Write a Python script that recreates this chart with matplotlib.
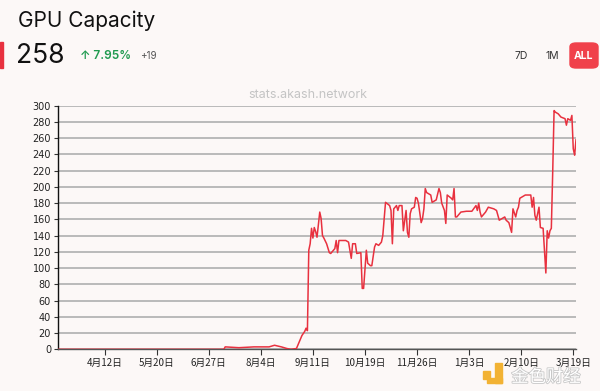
import pandas as pd
import numpy as np
import matplotlib.pyplot as plt
import matplotlib.patheffects as pe
from matplotlib.patches import FancyBboxPatch, Rectangle

# ---------------- Data ----------------
start_date = "2023-03-09"
day_offsets = [0, 121, 122, 132, 143, 154, 158, 163, 167, 170, 174, 176, 178, 180, 181, 182,
               183, 184, 185, 186, 187, 188, 189, 191, 192, 193, 194, 196, 198, 199, 202, 203,
               204, 205, 210, 212, 214, 215, 217, 218, 221, 222, 223, 225, 226, 228, 229, 231,
               232, 234, 236, 237, 239, 242, 243, 244, 245, 247, 248, 249, 251, 252, 254, 255,
               256, 257, 258, 260, 261, 262, 263, 265, 266, 267, 268, 269, 272, 273, 276, 278,
               279, 280, 282, 283, 284, 287, 288, 289, 290, 291, 294, 298, 302, 305, 306, 307,
               308, 309, 312, 314, 318, 320, 322, 324, 326, 327, 329, 330, 331, 332, 334, 335,
               336, 337, 338, 341, 345, 346, 347, 348, 349, 351, 352, 354, 356, 357, 358, 359,
               360, 361, 362, 363, 365, 367, 370, 371, 372, 374, 375, 376, 377, 378]
gpu_capacity = [0, 0, 3, 2, 3, 3, 5, 3, 1, 0, 1, 9, 17, 22, 26, 23,
                122, 130, 149, 137, 150, 145, 138, 169, 161, 140, 137, 130, 119, 118, 124, 134,
                119, 134, 134, 132, 112, 130, 130, 118, 119, 75, 75, 122, 106, 103, 103, 126,
                130, 128, 132, 140, 181, 177, 171, 130, 173, 177, 171, 177, 177, 146, 171, 144,
                138, 167, 173, 175, 187, 186, 180, 156, 161, 173, 198, 193, 190, 181, 184, 198,
                193, 180, 171, 155, 190, 186, 184, 198, 163, 163, 169, 170, 170, 177, 171, 180,
                169, 163, 169, 175, 173, 171, 159, 161, 163, 159, 156, 150, 144, 173, 163, 171,
                175, 186, 187, 190, 190, 175, 187, 165, 159, 175, 150, 149, 94, 146, 137, 146,
                149, 218, 294, 292, 290, 286, 284, 276, 284, 282, 288, 247, 239, 258]

tick_dates = pd.date_range("2023-04-12", periods=10, freq="38D")
tick_labels = ["4月12日", "5月20日", "6月27日", "8月4日", "9月11日",
               "10月19日", "11月26日", "1月3日", "2月10日", "3月19日"]
y_ticks = list(range(0, 301, 20))

title = "GPU Capacity"
current_value = "258"
change_pct = "↑ 7.95%"
change_abs = "+19"
range_buttons = ["7D", "1M", "ALL"]

dates = pd.Timestamp(start_date) + pd.to_timedelta(day_offsets, unit="D")

bg = "#fcf8f7"
red = "#e8313f"
gold = "#f2b233"

fig = plt.figure(figsize=(6.0, 3.91), dpi=100, facecolor=bg)
ax = fig.add_axes([0.0967, 0.1066, 0.8633, 0.6231], facecolor=bg)

ax.plot(dates, gpu_capacity, color=red, linewidth=1.1, zorder=3)

ax.set_xlim(dates[0], dates[-1])
ax.set_ylim(0, 300)
ax.set_yticks(y_ticks)
ax.set_yticklabels([str(v) for v in y_ticks], fontsize=7, color="#222222")
ax.set_xticks(tick_dates)
ax.set_xticklabels(tick_labels, fontsize=7, color="#222222",
                   family=["Noto Sans CJK SC", "DejaVu Sans"])
ax.yaxis.grid(True, color="#b5b5b5", linewidth=1.3)
ax.set_axisbelow(True)
for s in ["top", "right"]:
    ax.spines[s].set_visible(False)
ax.spines["left"].set_color("#111111")
ax.spines["left"].set_linewidth(1.0)
ax.spines["bottom"].set_color("#555555")
ax.spines["bottom"].set_linewidth(1.0)
ax.tick_params(axis="y", length=3, width=0.8, color="#333333", pad=2)
ax.tick_params(axis="x", length=4, width=0.8, color="#333333", pad=2)


def px_rect(x0, y0, x1, y1, **kw):
    # rectangle given in picture pixels (top-left origin)
    return Rectangle((x0 / 600, 1 - y1 / 391), (x1 - x0) / 600, (y1 - y0) / 391,
                     transform=fig.transFigure, **kw)


# ---------------- Header ----------------
fig.text(18 / 600, 1 - 21 / 391, title, fontsize=15, color="#111111",
         family="Inter", va="center", ha="left")
fig.text(16 / 600, 1 - 56 / 391, current_value, fontsize=19, color="#111111",
         family="Inter", va="center", ha="left")
fig.text(80 / 600, 1 - 56 / 391, change_pct, fontsize=8.5, color="#1f9a4f",
         family="Inter", weight="semibold", va="center", ha="left")
fig.text(140 / 600, 1 - 56 / 391, change_abs, fontsize=7, color="#555555",
         family="Inter", va="center", ha="left")
fig.patches.append(px_rect(0, 42, 3, 68, color=red))

fig.text(521 / 600, 1 - 56 / 391, range_buttons[0], fontsize=7.5, color="#333333",
         family="Inter", va="center", ha="center")
fig.text(552 / 600, 1 - 56 / 391, range_buttons[1], fontsize=7.5, color="#333333",
         family="Inter", va="center", ha="center")
fig.patches.append(FancyBboxPatch((570 / 600, 1 - 68 / 391), 28 / 600, 25 / 391,
                                  boxstyle="round,pad=0,rounding_size=0.01",
                                  transform=fig.transFigure, color="#f0414b"))
fig.text(584 / 600, 1 - 56 / 391, range_buttons[2], fontsize=7.5, color="white",
         family="Inter", weight="bold", va="center", ha="center")

fig.text(308 / 600, 1 - 95 / 391, "stats.akash.network", fontsize=9, color="#c4c4c4",
         family="Inter", va="center", ha="center")

# watermark (nudged a little lower so it does not sit on the tick labels)
fig.patches.append(px_rect(483, 371, 490, 379, color=gold))
fig.patches.append(px_rect(495, 363, 502, 383, color=gold))
fig.patches.append(px_rect(487, 378, 502, 383, color=gold))
fig.text(546 / 600, 1 - 377 / 391, "金色财经", fontsize=12.5, color="white",
         family=["Noto Sans CJK SC", "DejaVu Sans"], va="center", ha="center",
         path_effects=[pe.withStroke(linewidth=1.2, foreground="#c8c8c8")])

fig.savefig("out.png", dpi=100, facecolor=bg)
